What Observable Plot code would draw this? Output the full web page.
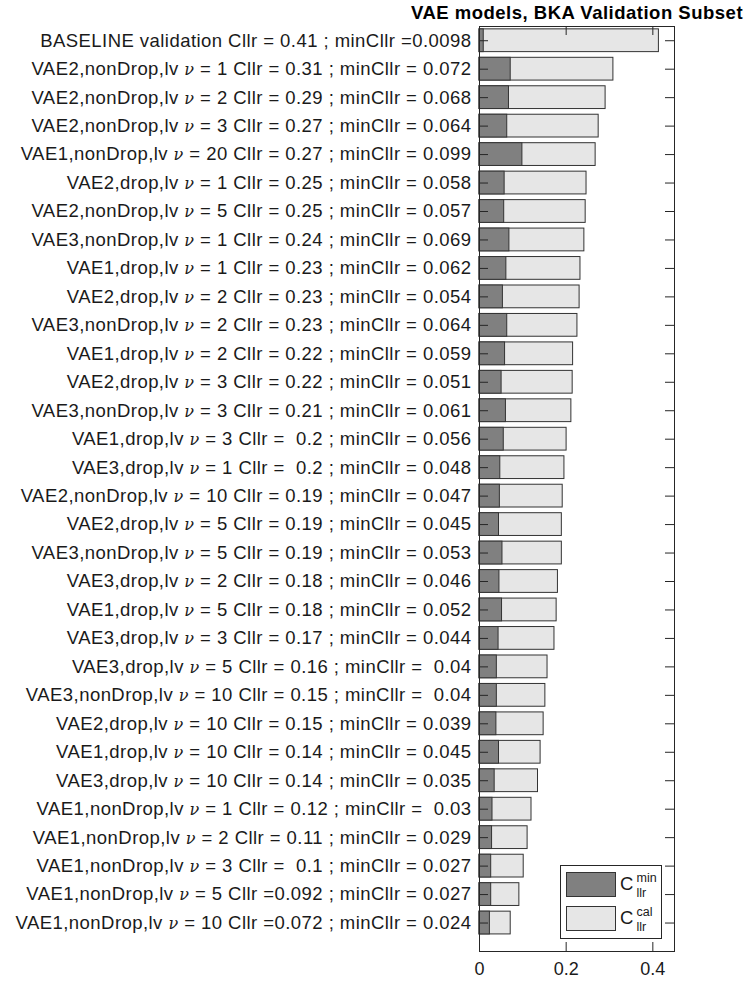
<!DOCTYPE html>
<html><head><meta charset="utf-8">
<script src="https://cdn.jsdelivr.net/npm/d3@7"></script>
<script src="https://cdn.jsdelivr.net/npm/@observablehq/plot@0.6"></script>
<style>body{margin:0;background:#fff} svg{white-space:pre}</style>
</head><body><div id="chart"></div>
<script>
const labels = [
"BASELINE validation Cllr = 0.41 ; minCllr =0.0098",
"VAE2,nonDrop,lv ν = 1 Cllr = 0.31 ; minCllr = 0.072",
"VAE2,nonDrop,lv ν = 2 Cllr = 0.29 ; minCllr = 0.068",
"VAE2,nonDrop,lv ν = 3 Cllr = 0.27 ; minCllr = 0.064",
"VAE1,nonDrop,lv ν = 20 Cllr = 0.27 ; minCllr = 0.099",
"VAE2,drop,lv ν = 1 Cllr = 0.25 ; minCllr = 0.058",
"VAE2,nonDrop,lv ν = 5 Cllr = 0.25 ; minCllr = 0.057",
"VAE3,nonDrop,lv ν = 1 Cllr = 0.24 ; minCllr = 0.069",
"VAE1,drop,lv ν = 1 Cllr = 0.23 ; minCllr = 0.062",
"VAE2,drop,lv ν = 2 Cllr = 0.23 ; minCllr = 0.054",
"VAE3,nonDrop,lv ν = 2 Cllr = 0.23 ; minCllr = 0.064",
"VAE1,drop,lv ν = 2 Cllr = 0.22 ; minCllr = 0.059",
"VAE2,drop,lv ν = 3 Cllr = 0.22 ; minCllr = 0.051",
"VAE3,nonDrop,lv ν = 3 Cllr = 0.21 ; minCllr = 0.061",
"VAE1,drop,lv ν = 3 Cllr =  0.2 ; minCllr = 0.056",
"VAE3,drop,lv ν = 1 Cllr =  0.2 ; minCllr = 0.048",
"VAE2,nonDrop,lv ν = 10 Cllr = 0.19 ; minCllr = 0.047",
"VAE2,drop,lv ν = 5 Cllr = 0.19 ; minCllr = 0.045",
"VAE3,nonDrop,lv ν = 5 Cllr = 0.19 ; minCllr = 0.053",
"VAE3,drop,lv ν = 2 Cllr = 0.18 ; minCllr = 0.046",
"VAE1,drop,lv ν = 5 Cllr = 0.18 ; minCllr = 0.052",
"VAE3,drop,lv ν = 3 Cllr = 0.17 ; minCllr = 0.044",
"VAE3,drop,lv ν = 5 Cllr = 0.16 ; minCllr =  0.04",
"VAE3,nonDrop,lv ν = 10 Cllr = 0.15 ; minCllr =  0.04",
"VAE2,drop,lv ν = 10 Cllr = 0.15 ; minCllr = 0.039",
"VAE1,drop,lv ν = 10 Cllr = 0.14 ; minCllr = 0.045",
"VAE3,drop,lv ν = 10 Cllr = 0.14 ; minCllr = 0.035",
"VAE1,nonDrop,lv ν = 1 Cllr = 0.12 ; minCllr =  0.03",
"VAE1,nonDrop,lv ν = 2 Cllr = 0.11 ; minCllr = 0.029",
"VAE1,nonDrop,lv ν = 3 Cllr =  0.1 ; minCllr = 0.027",
"VAE1,nonDrop,lv ν = 5 Cllr =0.092 ; minCllr = 0.027",
"VAE1,nonDrop,lv ν = 10 Cllr =0.072 ; minCllr = 0.024"
];
const cllr = [0.414, 0.309, 0.291, 0.275, 0.268, 0.247, 0.245, 0.242, 0.233, 0.231, 0.226, 0.216,
  0.215, 0.212, 0.201, 0.196, 0.192, 0.190, 0.190, 0.181, 0.178, 0.173, 0.157, 0.152, 0.148,
  0.141, 0.135, 0.120, 0.111, 0.102, 0.092, 0.072];
const minCllr = [0.0098, 0.072, 0.068, 0.064, 0.099, 0.058, 0.057, 0.069, 0.062, 0.054, 0.064, 0.059,
  0.051, 0.061, 0.056, 0.048, 0.047, 0.045, 0.053, 0.046, 0.052, 0.044, 0.04, 0.04, 0.039,
  0.045, 0.035, 0.03, 0.029, 0.027, 0.027, 0.024];
const xTicks = [0, 0.2, 0.4];
const title = "VAE models, BKA Validation Subset";

const rows = labels.map((label, k) => ({i: k + 1, label, cllr: cllr[k], minCllr: minCllr[k]}));
const W = 748, H = 983, mL = 479, mR = 74, mT = 26, mB = 32;
const fw = W - mL - mR, fh = H - mT - mB, tick = 9;
const ink = "#262626";
const font = "'Liberation Sans', Arial, Helvetica, sans-serif";

const chart = Plot.plot({
  width: W, height: H, marginLeft: mL, marginRight: mR, marginTop: mT, marginBottom: mB,
  style: {fontFamily: font, fontSize: "18.5px", color: "#1a1a1a", background: "#fff", overflow: "visible"},
  x: {domain: [0, 0.45]},
  y: {domain: [33, 0.5]},
  marks: [
    Plot.rectX(rows, {x1: 0, x2: "cllr", y1: d => d.i - 0.4, y2: d => d.i + 0.4, fill: "#e6e6e6", stroke: "#333", strokeWidth: 1}),
    Plot.rectX(rows, {x1: 0, x2: "minCllr", y1: d => d.i - 0.4, y2: d => d.i + 0.4, fill: "#808080", stroke: "#333", strokeWidth: 1}),
    Plot.tickY(rows, {y: "i", insetRight: fw - tick, stroke: ink}),
    Plot.tickY(rows, {y: "i", insetLeft: fw - tick, stroke: ink}),
    Plot.tickX(xTicks, {x: d => d, insetBottom: fh - tick, stroke: ink}),
    Plot.tickX(xTicks, {x: d => d, insetTop: fh - tick, stroke: ink}),
    Plot.frame({stroke: ink}),
    Plot.axisY({ticks: rows.map(d => d.i), tickFormat: i => labels[i - 1], tickSize: 0, tickPadding: 8, label: null, fontSize: 18.5}),
    Plot.axisX({ticks: xTicks, tickFormat: d => String(d), tickSize: 0, tickPadding: 11, label: null, fontSize: 18}),
    Plot.text([title], {frameAnchor: "top", lineAnchor: "middle", dy: -13.5, text: d => d, fontWeight: "bold", fontSize: 18.5, fill: "#000"})
  ]
});
document.getElementById("chart").append(chart);

const svg = d3.select(chart);
svg.selectAll('g[aria-label="y-axis tick label"] text').style("letter-spacing", "0.45px");
svg.selectAll('g[aria-label="text"] text').style("letter-spacing", "0.5px");

// italic serif nu in tick labels
svg.selectAll('g[aria-label="y-axis tick label"] text').each(function() {
  const t = this.textContent;
  const k = t.indexOf("ν");
  if (k < 0) return;
  const sel = d3.select(this);
  sel.text(null);
  sel.append("tspan").text(t.slice(0, k));
  sel.append("tspan").attr("font-family", "'DejaVu Serif', 'Liberation Serif', serif").attr("font-style", "italic").attr("font-size", 16).text("ν");
  sel.append("tspan").text(t.slice(k + 1));
});

// legend
const lg = svg.append("g").attr("font-family", font).attr("fill", "#1a1a1a").attr("text-anchor", "start");
lg.append("rect").attr("x", 560.5).attr("y", 865.5).attr("width", 101).attr("height", 73).attr("fill", "#fff").attr("stroke", ink);
const items = [{fill: "#808080", sup: "min", y: 872}, {fill: "#e6e6e6", sup: "cal", y: 906}];
for (const it of items) {
  lg.append("rect").attr("x", 566.5).attr("y", it.y + 0.5).attr("width", 49).attr("height", 24).attr("fill", it.fill).attr("stroke", "#333");
  lg.append("text").attr("x", 620).attr("y", it.y + 18).attr("font-size", 18.5).text("C");
  lg.append("text").attr("x", 636.5).attr("y", it.y + 25).attr("font-size", 12.5).text("llr");
  lg.append("text").attr("x", 636.5).attr("y", it.y + 10).attr("font-size", 12.5).text(it.sup);
}
</script>
</body></html>
